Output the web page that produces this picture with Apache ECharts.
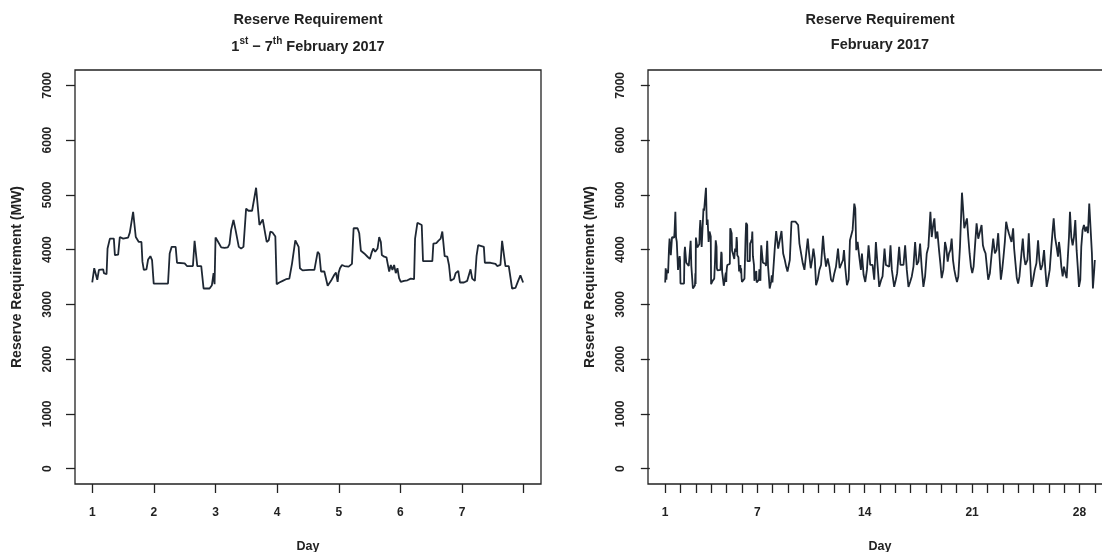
<!DOCTYPE html>
<html>
<head>
<meta charset="utf-8">
<script src="https://cdn.jsdelivr.net/npm/echarts@6/dist/echarts.min.js"></script>
<style>
html,body{margin:0;padding:0;background:#fff;overflow:hidden;width:1102px;height:552px;}
#chart{width:1118px;height:552px;}
</style>
</head>
<body>
<div id="chart"></div>
<script>
// ---------- DATA ----------
// Week view: 1st - 7th February 2017 (day, MW)
const weekDay = [1.000,1.016,1.032,1.059,1.081,1.108,1.135,1.178,1.189,1.232,1.248,1.275,1.286,1.313,1.350,1.367,1.420,1.447,1.474,1.501,1.582,1.609,1.636,1.663,1.690,1.706,1.733,1.755,1.798,1.814,1.836,1.879,1.906,1.943,1.970,1.997,2.229,2.256,2.288,2.353,2.375,2.499,2.536,2.633,2.660,2.687,2.704,2.768,2.806,2.903,2.941,2.968,2.984,3.000,3.027,3.054,3.092,3.146,3.199,3.226,3.253,3.291,3.323,3.345,3.377,3.415,3.453,3.480,3.496,3.534,3.593,3.620,3.658,3.685,3.712,3.739,3.766,3.782,3.803,3.830,3.863,3.889,3.927,3.954,3.970,3.992,4.035,4.089,4.143,4.197,4.224,4.240,4.267,4.294,4.326,4.348,4.369,4.412,4.520,4.604,4.631,4.657,4.684,4.711,4.765,4.781,4.819,4.873,4.927,4.954,4.981,4.997,5.019,5.051,5.089,5.116,5.159,5.180,5.213,5.240,5.304,5.331,5.358,5.412,5.466,5.504,5.531,5.558,5.590,5.628,5.655,5.682,5.698,5.736,5.773,5.800,5.817,5.843,5.870,5.897,5.924,5.951,5.978,6.005,6.059,6.113,6.167,6.221,6.237,6.259,6.275,6.302,6.345,6.366,6.517,6.534,6.582,6.614,6.652,6.679,6.695,6.717,6.760,6.787,6.814,6.841,6.868,6.895,6.938,6.965,7.030,7.083,7.110,7.137,7.164,7.207,7.234,7.261,7.288,7.353,7.369,7.461,7.542,7.569,7.622,7.649,7.676,7.703,7.757,7.784,7.811,7.865,7.903,7.946,7.962,7.990];
const weekMW = [3400,3400,3660,3680,3450,3630,3640,3640,3570,3550,4020,4050,4200,4190,4200,3900,3910,4230,4250,4200,4220,4310,4330,4690,4690,4230,4220,4140,4140,3780,3630,3640,3820,3880,3810,3380,3380,3930,4050,4050,3760,3750,3700,3700,4160,4140,3700,3700,3290,3290,3350,3570,3370,4220,4170,4140,4040,4030,4040,4100,4360,4540,4370,4340,4050,4020,4050,4080,4750,4710,4710,4720,5130,5130,4450,4470,4550,4550,4310,4140,4170,4330,4310,4300,4240,3370,3400,3430,3460,3470,3470,3740,3750,4170,4140,4050,3660,3620,3630,3630,3640,3960,3920,3600,3600,3570,3340,3430,3540,3580,3410,3580,3660,3720,3700,3720,3690,3720,3740,4390,4390,4300,3980,3930,3870,3830,3940,4020,3960,4020,4230,4140,3900,3870,3860,3700,3600,3720,3630,3720,3570,3660,3480,3410,3430,3440,3470,3460,4200,4230,4490,4460,4450,3790,3790,4110,4120,4160,4200,4330,4330,3880,3870,3720,3430,3460,3470,3570,3610,3400,3400,3430,3450,3640,3470,3430,3880,4080,4050,4050,3760,3760,3740,3700,3720,4160,4140,3700,3700,3690,3290,3300,3410,3530,3560,3400];

// Month view: remaining days 8 - 29 (day, MW); days 1-7 are the week data
const restDay = [8.018,8.148,8.234,8.364,8.451,8.581,8.689,8.797,8.884,8.971,9.122,9.230,9.317,9.490,9.664,9.750,9.859,9.967,10.075,10.184,10.292,10.379,10.487,10.574,10.660,10.747,10.833,10.942,11.050,11.158,11.288,11.375,11.483,11.591,11.700,11.808,11.916,12.025,12.133,12.263,12.371,12.479,12.588,12.653,12.739,12.847,12.956,13.042,13.129,13.215,13.324,13.389,13.454,13.540,13.648,13.757,13.822,13.930,14.039,14.147,14.255,14.364,14.515,14.624,14.732,14.840,14.948,15.079,15.166,15.295,15.382,15.512,15.599,15.685,15.772,15.859,15.924,16.032,16.118,16.248,16.335,16.422,16.530,16.638,16.747,16.855,16.963,17.071,17.180,17.288,17.396,17.505,17.613,17.721,17.829,17.938,18.046,18.154,18.284,18.371,18.479,18.544,18.631,18.739,18.847,18.934,19.021,19.129,19.237,19.324,19.411,19.497,19.584,19.671,19.757,19.844,19.930,20.017,20.104,20.212,20.277,20.342,20.407,20.494,20.580,20.667,20.753,20.840,20.927,21.013,21.100,21.187,21.295,21.403,21.512,21.620,21.707,21.793,21.880,21.966,22.053,22.161,22.270,22.378,22.486,22.595,22.703,22.789,22.876,22.963,23.049,23.136,23.222,23.309,23.396,23.482,23.569,23.677,23.742,23.829,23.916,24.002,24.089,24.219,24.306,24.392,24.479,24.609,24.695,24.782,24.869,24.977,25.085,25.194,25.302,25.389,25.475,25.583,25.692,25.778,25.865,25.952,26.060,26.168,26.255,26.320,26.407,26.493,26.601,26.666,26.731,26.818,26.905,26.991,27.078,27.165,27.251,27.316,27.381,27.468,27.554,27.641,27.728,27.814,27.901,27.966,28.053,28.118,28.204,28.291,28.378,28.464,28.551,28.637,28.724,28.811,28.876,28.962,29.000];
const restMW = [3410,4050,4340,4020,3990,4340,3930,3810,3690,3600,3810,4510,4540,4510,4450,4110,4080,3750,3630,3630,4200,3930,3660,3810,4020,3840,3350,3450,3630,3720,4250,3930,3690,3840,3690,3450,3410,3570,3690,4020,3660,3630,3810,3990,3660,3350,3450,4170,4200,4360,4840,4750,3990,4140,3870,3630,3930,3540,3410,3630,4080,3720,3720,3450,4140,3720,3320,3450,3510,4020,3720,3720,3690,4080,3630,3450,3320,3450,3570,4050,3720,3690,3720,4080,3630,3320,3410,3510,3690,4140,3720,3780,4110,3660,3320,3510,3930,4050,4690,4230,4480,4570,4200,4330,3990,3750,3480,3630,4140,4020,3780,3930,3990,4200,3810,3630,3510,3410,3510,4050,4540,5040,4780,4390,4480,4570,4230,3930,3690,3570,3690,4050,4480,4200,4230,4450,4080,3990,3930,3690,3450,3570,3900,4200,3930,3990,4300,3870,3450,3630,3870,4140,4510,4390,4300,4330,4140,4390,4020,3750,3480,3380,3510,3930,4200,3870,3720,3810,4300,3810,3320,3450,3630,3750,4170,3810,3630,3720,3990,3630,3320,3450,3630,4050,4360,4570,4230,4080,3870,4140,3990,3690,3510,3690,3570,3480,3510,4230,4690,4230,4080,4230,4540,3990,3630,3320,3450,4050,4360,4450,4330,4420,4300,4840,4870,3930,3290,3630,3810];

const monthDay = weekDay.concat(restDay);
const monthMW = weekMW.concat(restMW);

const yTicks = [0,1000,2000,3000,4000,5000,6000,7000];
const weekTicks = [1,2,3,4,5,6,7,8];
const weekLabels = [1,2,3,4,5,6,7];
const monthTicks = [1,2,3,4,5,6,7,8,9,10,11,12,13,14,15,16,17,18,19,20,21,22,23,24,25,26,27,28,29];
const monthLabels = [1,7,14,21,28];

const titleMain = 'Reserve Requirement';
const yName = 'Reserve Requirement (MW)';
const xName = 'Day';

// ---------- CHART ----------
const FONT = '"Liberation Sans", Arial, Helvetica, sans-serif';
const INK = '#222';
const LINE = '#1e2733';

function yAxisCfg(gi) {
  return {
    type: 'value', gridIndex: gi, min: -280, max: 7280,
    name: yName, nameLocation: 'middle', nameGap: 51, nameRotate: 90,
    nameTextStyle: {fontFamily: FONT, fontWeight: 'bold', fontSize: 14, color: INK},
    axisLine: {show: false},
    axisTick: {show: true, length: 9, customValues: yTicks, lineStyle: {color: INK, width: 1.3}},
    axisLabel: {show: true, customValues: yTicks, rotate: 90, margin: 21,
      formatter: v => String(v),
      fontFamily: FONT, fontWeight: 'bold', fontSize: 12, color: INK},
    splitLine: {show: false}
  };
}
function xAxisCfg(gi, min, max, ticks, labels) {
  return {
    type: 'value', gridIndex: gi, min: min, max: max,
    name: xName, nameLocation: 'middle', nameGap: 56,
    nameTextStyle: {fontFamily: FONT, fontWeight: 'bold', fontSize: 12.5, color: INK},
    axisLine: {show: false, onZero: false},
    axisTick: {show: true, length: 9, customValues: ticks, lineStyle: {color: INK, width: 1.3}},
    axisLabel: {show: true, customValues: labels, margin: 23,
      formatter: v => String(v),
      fontFamily: FONT, fontWeight: 'bold', fontSize: 12, color: INK},
    splitLine: {show: false}
  };
}

const chart = echarts.init(document.getElementById('chart'), null, {renderer: 'canvas'});
const option = {
  animation: false,
  backgroundColor: '#ffffff',
  grid: [
    {left: 75, top: 70, width: 466, height: 414, outerBoundsMode: 'none', containLabel: false,
      show: true, borderColor: INK, borderWidth: 1.3, backgroundColor: 'transparent'},
    {left: 648, top: 70, width: 464, height: 414, outerBoundsMode: 'none', containLabel: false,
      show: true, borderColor: INK, borderWidth: 1.3, backgroundColor: 'transparent'}
  ],
  xAxis: [
    xAxisCfg(0, 0.72, 8.28, weekTicks, weekLabels),
    xAxisCfg(1, -0.12, 30.12, monthTicks, monthLabels)
  ],
  yAxis: [yAxisCfg(0), yAxisCfg(1)],
  graphic: [
    {type: 'text', x: 308, y: 20, style: {text: titleMain, align: 'center', verticalAlign: 'middle',
      fontFamily: FONT, fontWeight: 'bold', fontSize: 14.5, fill: INK}},
    {type: 'text', x: 308, y: 45, style: {
      text: '{n|1}{s|st}{n| \u2212 7}{s|th}{n| February 2017}', align: 'center', verticalAlign: 'middle',
      rich: {
        n: {fontFamily: FONT, fontWeight: 'bold', fontSize: 14.5, lineHeight: 18, verticalAlign: 'bottom', fill: INK, color: INK},
        s: {fontFamily: FONT, fontWeight: 'bold', fontSize: 10, lineHeight: 11, verticalAlign: 'top', fill: INK, color: INK}
      }}},
    {type: 'text', x: 880, y: 20, style: {text: titleMain, align: 'center', verticalAlign: 'middle',
      fontFamily: FONT, fontWeight: 'bold', fontSize: 14.5, fill: INK}},
    {type: 'text', x: 880, y: 45, style: {text: 'February 2017', align: 'center', verticalAlign: 'middle',
      fontFamily: FONT, fontWeight: 'bold', fontSize: 14.5, fill: INK}}
  ],
  series: [
    {type: 'line', xAxisIndex: 0, yAxisIndex: 0, showSymbol: false, symbol: 'none',
      lineStyle: {color: LINE, width: 1.8}, clip: true,
      data: weekDay.map((d, i) => [d, weekMW[i]])},
    {type: 'line', xAxisIndex: 1, yAxisIndex: 1, showSymbol: false, symbol: 'none',
      lineStyle: {color: LINE, width: 1.8}, clip: true,
      data: monthDay.map((d, i) => [d, monthMW[i]])}
  ]
};
chart.setOption(option);
</script>
</body>
</html>
